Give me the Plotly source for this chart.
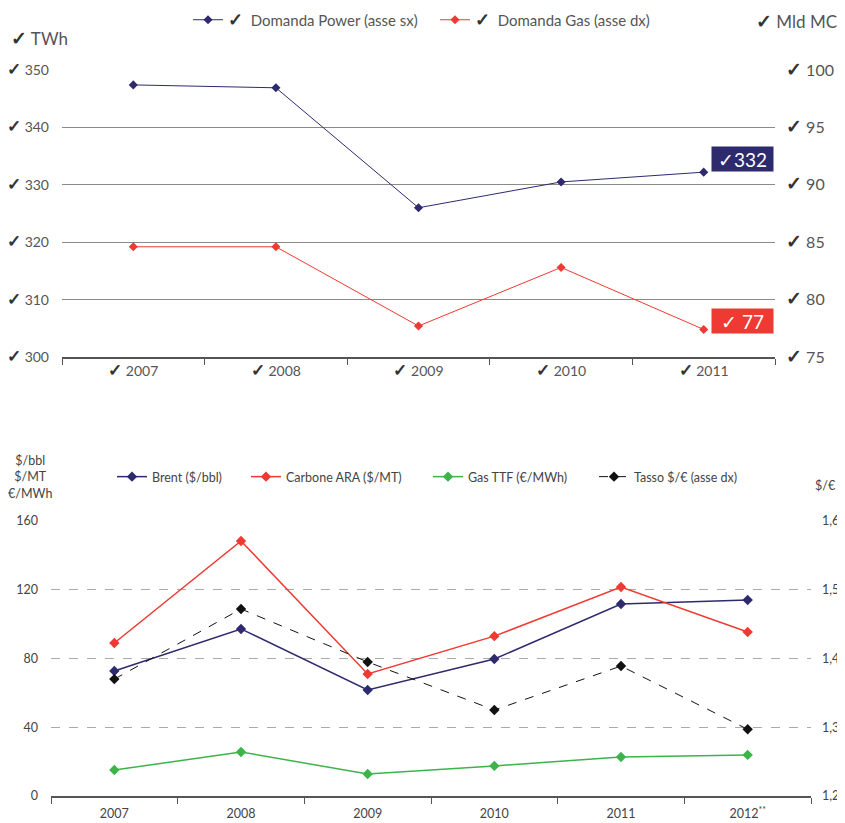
import plotly.graph_objects as go

# ---- data (top chart) ----
years_top = ["2007", "2008", "2009", "2010", "2011"]
power_twh = [347.4, 346.9, 326.0, 330.5, 332.2]
gas_mldmc = [84.6, 84.6, 77.7, 82.8, 77.4]
left_ticks_top = [300, 310, 320, 330, 340, 350]
right_ticks_top = [75, 80, 85, 90, 95, 100]

# ---- data (bottom chart) ----
years_bottom = ["2007", "2008", "2009", "2010", "2011", "2012"]
year_labels_bottom = ["2007", "2008", "2009", "2010", "2011", "2012<sup>**</sup>"]
brent = [72.7, 97.2, 61.7, 79.7, 111.7, 114.0]
carbone = [89.0, 148.4, 71.0, 93.0, 121.6, 95.4]
gas_ttf = [15.1, 25.6, 12.8, 17.5, 22.7, 23.9]
tasso = [1.370, 1.472, 1.395, 1.325, 1.389, 1.297]
left_ticks_bottom = [0, 40, 80, 120, 160]
right_ticks_bottom = [1.2, 1.3, 1.4, 1.5, 1.6]
right_labels_bottom = ["1,2", "1,3", "1,4", "1,5", "1,6"]

# page body margin offset (the figure is drawn 8px in from the window corner)
OFF = 8
W, H = 845 - OFF, 823 - OFF
def px(x):
    return (x - OFF) / W
def py(y):
    return 1 - (y - OFF) / H

def chk(size):
    return "<span style='color:#333333;font-size:%dpx;font-weight:bold'>✓</span>" % size

NAVY = "#2e2a6e"
RED = "#ee3a32"
GREEN = "#3cb44a"
FONT = "Lato"

fig = go.Figure()

fig.add_trace(go.Scatter(
    x=years_top, y=power_twh, name=chk(18) + "  Domanda Power (asse sx)",
    mode="lines+markers", line=dict(color=NAVY, width=1),
    marker=dict(symbol="diamond", size=7, color=NAVY),
    xaxis="x", yaxis="y", legend="legend"))
fig.add_trace(go.Scatter(
    x=years_top, y=gas_mldmc, name=chk(18) + "  Domanda Gas (asse dx)",
    mode="lines+markers", line=dict(color=RED, width=1),
    marker=dict(symbol="diamond", size=7, color=RED),
    xaxis="x", yaxis="y2", legend="legend"))

fig.add_trace(go.Scatter(
    x=years_bottom, y=brent, name="Brent ($/bbl)",
    mode="lines+markers", line=dict(color=NAVY, width=1.5),
    marker=dict(symbol="diamond", size=8, color=NAVY),
    xaxis="x2", yaxis="y3", legend="legend2"))
fig.add_trace(go.Scatter(
    x=years_bottom, y=carbone, name="Carbone ARA ($/MT)",
    mode="lines+markers", line=dict(color=RED, width=1.5),
    marker=dict(symbol="diamond", size=8, color=RED),
    xaxis="x2", yaxis="y3", legend="legend3"))
fig.add_trace(go.Scatter(
    x=years_bottom, y=gas_ttf, name="Gas TTF (€/MWh)",
    mode="lines+markers", line=dict(color=GREEN, width=1.5),
    marker=dict(symbol="diamond", size=8, color=GREEN),
    xaxis="x2", yaxis="y3", legend="legend4"))
fig.add_trace(go.Scatter(
    x=years_bottom, y=tasso, name="Tasso $/€ (asse dx)",
    mode="lines+markers", line=dict(color="#111111", width=1, dash="dash"),
    marker=dict(symbol="diamond", size=8, color="#111111"),
    xaxis="x2", yaxis="y4", legend="legend5"))

tick_font = dict(family=FONT, size=14, color="#555555")
legend_font_b = dict(family=FONT, size=12.5, color="#444444")

def bottom_legend(xpix):
    return dict(orientation="h", x=px(xpix), xanchor="left", y=py(477),
                yanchor="middle", font=legend_font_b, bgcolor="rgba(0,0,0,0)")

fig.update_layout(
    width=W, height=H,
    margin=dict(l=0, r=0, t=0, b=0, autoexpand=False),
    paper_bgcolor="white", plot_bgcolor="white",
    font=dict(family=FONT, size=13, color="#555555"),
    xaxis=dict(
        domain=[px(62), px(775)], anchor="y", type="category",
        range=[-0.5, len(years_top) - 0.5], automargin=False,
        tickmode="array", tickvals=years_top,
        ticktext=[chk(17) + " " + y for y in years_top], tickangle=0,
        tickson="boundaries", ticks="outside", ticklen=6, tickcolor="#555555",
        showline=True, linecolor="#555555", linewidth=1.5,
        showgrid=False, tickfont=tick_font, fixedrange=True),
    yaxis=dict(
        domain=[py(357), py(70)], anchor="x", range=[300, 350], automargin=False,
        tickmode="array", tickvals=left_ticks_top,
        ticktext=[chk(17) + " " + str(v) for v in left_ticks_top],
        showgrid=True, gridcolor="#8a8a8a", gridwidth=1, zeroline=False,
        ticklabelstandoff=12, tickfont=tick_font),
    yaxis2=dict(
        overlaying="y", side="right", anchor="x", range=[75, 100], automargin=False,
        tickmode="array", tickvals=right_ticks_top,
        ticktext=[chk(19) + " " + str(v) for v in right_ticks_top],
        showgrid=False, zeroline=False, ticklabelstandoff=10,
        tickfont=dict(family=FONT, size=16, color="#555555")),
    xaxis2=dict(
        domain=[px(51), px(811)], anchor="y3", type="category",
        range=[-0.5, len(years_bottom) - 0.5], automargin=False,
        tickmode="array", tickvals=years_bottom, ticktext=year_labels_bottom,
        tickangle=0, ticklabelstandoff=5,
        tickson="boundaries", ticks="outside", ticklen=6, tickcolor="#555555",
        showline=True, linecolor="#555555", linewidth=1.5,
        showgrid=False, tickfont=dict(family=FONT, size=12.5, color="#444444")),
    yaxis3=dict(
        domain=[py(796), py(521)], anchor="x2", range=[0, 160], automargin=False,
        tickmode="array", tickvals=left_ticks_bottom,
        showgrid=True, gridcolor="#aaaaaa", griddash="dash", gridwidth=1,
        zeroline=False, ticklabelstandoff=12,
        tickfont=dict(family=FONT, size=12.5, color="#444444")),
    yaxis4=dict(
        overlaying="y3", side="right", anchor="x2", range=[1.2, 1.6], automargin=False,
        tickmode="array", tickvals=right_ticks_bottom, ticktext=right_labels_bottom,
        showgrid=False, zeroline=False, ticklabelstandoff=10,
        tickfont=dict(family=FONT, size=12.5, color="#444444")),
    legend=dict(
        orientation="h", x=px(188), xanchor="left", y=py(20), yanchor="middle",
        entrywidth=202, entrywidthmode="pixels",
        font=dict(family=FONT, size=15, color="#555555"), bgcolor="rgba(0,0,0,0)"),
    legend2=bottom_legend(112),
    legend3=bottom_legend(246),
    legend4=bottom_legend(428),
    legend5=bottom_legend(594),
    showlegend=True,
)

annotations = [
    dict(text=chk(19) + " TWh", x=px(9), y=py(37), xref="paper", yref="paper",
         xanchor="left", yanchor="middle", showarrow=False,
         font=dict(family=FONT, size=17, color="#555555")),
    dict(text=chk(19) + " Mld MC", x=px(839), y=py(20), xref="paper", yref="paper",
         xanchor="right", yanchor="middle", showarrow=False,
         font=dict(family=FONT, size=17, color="#555555")),
    dict(text="$/bbl<br>$/MT<br>€/MWh", x=px(30), y=py(477), xref="paper", yref="paper",
         xanchor="center", yanchor="middle", showarrow=False, align="center",
         font=dict(family=FONT, size=12.5, color="#444444")),
    dict(text="$/€", x=px(838), y=py(486), xref="paper", yref="paper",
         xanchor="right", yanchor="middle", showarrow=False,
         font=dict(family=FONT, size=12.5, color="#444444")),
    dict(text="✓" + str(round(power_twh[-1])), x=len(years_top) - 1, y=power_twh[-1],
         xref="x", yref="y", xshift=38.5, yshift=13, showarrow=False,
         bgcolor=NAVY, width=57, height=20, borderpad=2,
         font=dict(family=FONT, size=19, color="white")),
    dict(text="✓ " + str(round(gas_mldmc[-1])), x=len(years_top) - 1, y=gas_mldmc[-1],
         xref="x", yref="y2", xshift=38.5, yshift=8, showarrow=False,
         bgcolor=RED, width=57, height=20, borderpad=2,
         font=dict(family=FONT, size=19, color="white")),
]
fig.update_layout(annotations=annotations)

fig.write_html("out.html")
